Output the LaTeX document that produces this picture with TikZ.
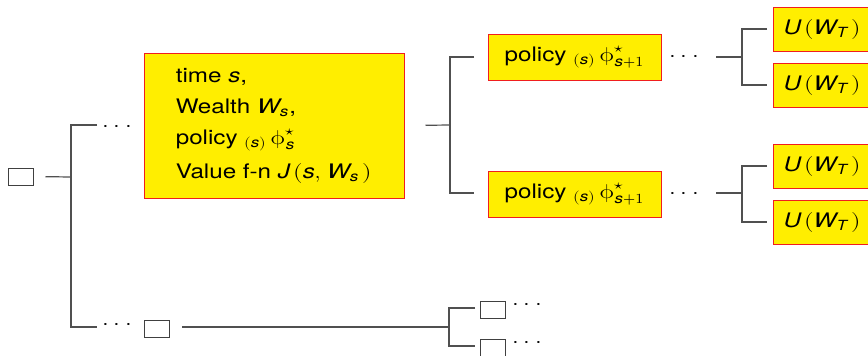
\documentclass[tikz,border=0pt]{standalone}
\usepackage{amsmath}
\usepackage{fontspec}
\setmainfont{TeX Gyre Heros}[FakeStretch=1.21]
\newfontfamily\lmm{Latin Modern Math}[FakeStretch=1.21]
\newcommand\iv[1]{\text{\itshape #1}}
\newcommand\lp{\text{\lmm(}}
\newcommand\rp{\text{\lmm)}}
\newcommand\phis{\text{\lmm ϕ}}
\newcommand\stars{\text{\lmm ⋆}}
\newcommand\dotz{{\lmm ⋅\hspace{2.4pt}⋅\hspace{2.4pt}⋅}}
\definecolor{boxyellow}{RGB}{255,238,0}
\definecolor{boxred}{RGB}{240,30,30}
\definecolor{linegray}{RGB}{80,80,80}
\begin{document}
\begin{tikzpicture}[x=0.5pt,y=-0.5pt,
  every node/.style={font=\fontsize{10}{15.5}\selectfont},
  conn/.style={draw=linegray,line width=0.6pt},
  ybox/.style={draw=boxred,line width=0.5pt,fill=boxyellow,inner sep=0pt},
  ubox/.style={ybox,inner xsep=5pt,minimum height=22pt,anchor=west},
  ebox/.style={draw=black!75,line width=0.5pt,minimum width=12.5pt,minimum height=8.5pt,inner sep=0pt},
  dotsn/.style={inner sep=0pt,anchor=mid}]
\useasboundingbox (0,0) rectangle (868,355);
% root
\node[ebox] (root) at (20.5,176.5) {};
\coordinate (j1) at (71,177);
\coordinate (a1) at (97,125);
\coordinate (a2) at (97,327);
\draw[conn,shorten <=6pt] (root.east) -- (j1);
\draw[conn] (a1) -| (j1) |- (a2);
\node[dotsn] (dt1) at (117,126) {\dotz};
\node[dotsn] (dt2) at (117,324) {\dotz};
% big box
\node[ybox,minimum width=130pt,minimum height=72.5pt,align=left] (big) at (274,125.5)
  {time \textit{s},\\ Wealth $\iv{W}_{\iv{s}}$,\\ policy ${}_{\lp\iv{s}\rp}\,\phis^{\stars}_{\iv{s}}$\\[1.5pt] Value f-n $\iv{J}\,\lp\iv{s},\,\iv{W}_{\iv{s}}\,\rp$};
\coordinate (j2) at (450,125);
\coordinate (b1) at (474,57);
\coordinate (b2) at (474,193);
\draw[conn,shorten <=10.5pt] (big.east) -- (j2);
\draw[conn] (b1) -| (j2) |- (b2);
% policy boxes
\node[ybox,minimum width=86.5pt,minimum height=23pt] (p1) at (574.5,57) {policy ${}_{\lp\iv{s}\rp}\,\phis^{\stars}_{\iv{s}+1}$};
\node[ybox,minimum width=86.5pt,minimum height=23pt] (p2) at (574.5,194) {policy ${}_{\lp\iv{s}\rp}\,\phis^{\stars}_{\iv{s}+1}$};
\node[dotsn] (dt3) at (684,56) {\dotz};
\node[dotsn] (dt4) at (684,193) {\dotz};
% upper utility fork
\coordinate (c1) at (716,57);
\coordinate (j3) at (742,57);
\coordinate (d1) at (767,29);
\coordinate (d2) at (767,85);
\draw[conn] (c1) -- (j3);
\draw[conn] (d1) -| (j3) |- (d2);
\node[ubox] (u1) at (773,29) {$\iv{U}\,\lp\iv{W}_{\iv{T}}\,\rp$\hspace*{6pt}};
\node[ubox] (u2) at (773,85) {$\iv{U}\,\lp\iv{W}_{\iv{T}}\,\rp$\hspace*{6pt}};
% lower utility fork
\coordinate (c2) at (716,193);
\coordinate (j4) at (742,193);
\coordinate (d3) at (767,166);
\coordinate (d4) at (767,222);
\draw[conn] (c2) -- (j4);
\draw[conn] (d3) -| (j4) |- (d4);
\node[ubox] (u3) at (773,166) {$\iv{U}\,\lp\iv{W}_{\iv{T}}\,\rp$\hspace*{6pt}};
\node[ubox] (u4) at (773,222) {$\iv{U}\,\lp\iv{W}_{\iv{T}}\,\rp$\hspace*{6pt}};
% bottom branch
\node[ebox] (sb1) at (156.5,328.5) {};
\coordinate (e1) at (182,327);
\coordinate (j5) at (449,327);
\draw[conn] (e1) -- (j5);
\coordinate (f1) at (475,308);
\coordinate (f2) at (475,346);
\draw[conn] (f1) -| (j5) |- (f2);
\node[ebox] (sb2) at (492.5,309.5) {};
\node[ebox] (sb3) at (492.5,347.5) {};
\node[dotsn] (dt5) at (527,304) {\dotz};
\node[dotsn] (dt6) at (527,342) {\dotz};
\end{tikzpicture}
\end{document}
